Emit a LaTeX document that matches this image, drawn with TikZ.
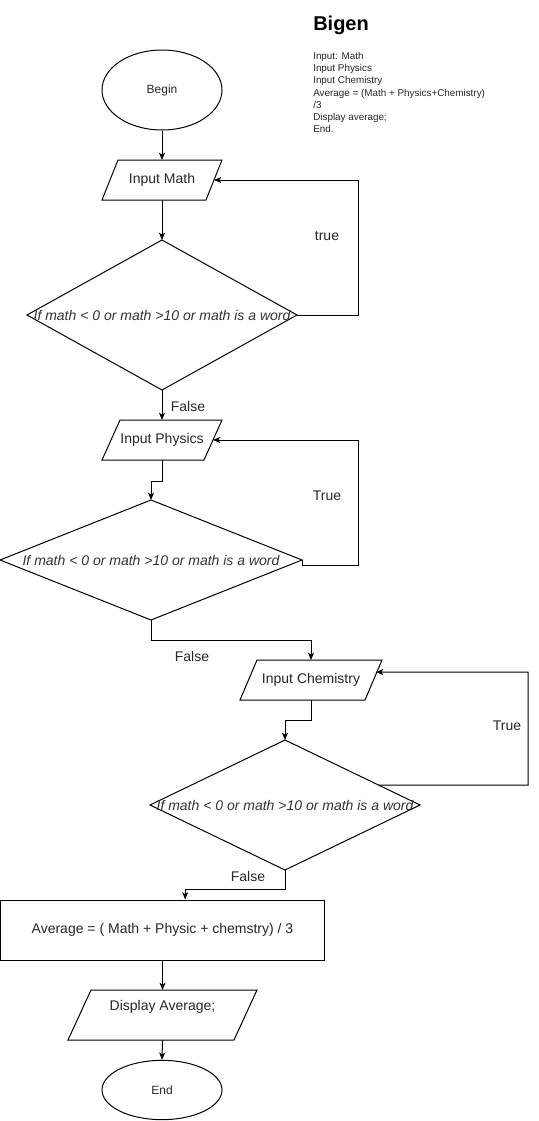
\documentclass[tikz,border=0pt]{standalone}
\usepackage{fontspec}
\setmainfont{Liberation Sans}
\usetikzlibrary{shapes.geometric,arrows.meta,calc}
\newcommand\paral[2]{\draw[line width=0.75pt] ([xshift=#2]#1.north west) -- (#1.north east) -- ([xshift=-#2]#1.south east) -- (#1.south west) -- cycle;}
\begin{document}
\begin{tikzpicture}[x=0.75pt,y=-0.75pt,
  every node/.style={font=\fontsize{10.5}{12}\selectfont, text=black!85},
  conn/.style={line width=0.75pt,-{Stealth[length=5.5pt,width=4.5pt,inset=1.5pt]}},
  plain/.style={line width=0.75pt},
  oval/.style={ellipse,draw,line width=0.75pt,inner sep=0pt,font=\fontsize{9}{10}\selectfont},
  dia/.style={diamond,draw,line width=0.75pt,inner sep=0pt,outer sep=0pt},
  diatext/.style={font=\fontsize{10.5}{12}\selectfont\itshape,text=black!80,inner sep=0pt},
  parab/.style={rectangle,inner sep=0pt,outer sep=0pt},
  lab/.style={inner sep=0pt},
  procbox/.style={rectangle,draw,line width=0.75pt,inner sep=0pt}
]
\useasboundingbox (0,0) rectangle (539,1121);
% header
\node[anchor=west,inner sep=0pt,font=\fontsize{15}{18}\selectfont\bfseries,text=black] (title) at (313,25) {Bigen};
\node[anchor=north west,inner sep=0pt,align=left,font=\fontsize{7.4}{9.15}\selectfont,text=black!85] (pseudo) at (313,52)
  {Input: Math\\Input Physics\\Input Chemistry\\Average = (Math + Physics+Chemistry)\\/3\\Display average;\\End.};
% nodes
\node[oval,minimum width=90pt,minimum height=60pt] (begin) at (162,90) {Begin};
\node[parab,minimum width=90pt,minimum height=30pt] (inmath) at (162,180) {Input Math};
\paral{inmath}{12pt}
\node[dia,minimum width=202.5pt,minimum height=112.5pt] (d1) at (162,315) {};
\node[diatext] (t1) at (d1.center) {If math < 0 or math >10 or math is a word};
\node[parab,minimum width=90pt,minimum height=30pt] (inphys) at (162,440) {Input Physics};
\paral{inphys}{13.5pt}
\node[dia,minimum width=226.5pt,minimum height=90pt] (d2) at (151,560) {};
\node[diatext] (t2) at (d2.center) {If math < 0 or math >10 or math is a word};
\node[parab,minimum width=106.5pt,minimum height=30pt] (inchem) at (311,680) {Input Chemistry};
\paral{inchem}{12.75pt}
\node[dia,minimum width=202.5pt,minimum height=97.5pt] (d3) at (285,805) {};
\node[diatext] (t3) at (d3.center) {If math < 0 or math >10 or math is a word};
\node[procbox,minimum width=243pt,minimum height=45pt] (avg) at (162.5,930) {Average = ( Math + Physic + chemstry) / 3};
\node[parab,minimum width=141.75pt,minimum height=37.5pt] (disp) at (162.5,1015) {};
\paral{disp}{17.25pt}
\node[inner sep=0pt] (disptext) at (162.5,1007) {Display Average;};
\node[oval,minimum width=90pt,minimum height=44.5pt] (end) at (162,1090) {End};
% labels
\node[lab] (l1) at (327,236) {true};
\node[lab] (l2) at (188,406) {False};
\node[lab] (l3) at (327,496) {True};
\node[lab] (l4) at (192,656) {False};
\node[lab] (l5) at (507,726) {True};
\node[lab] (l6) at (248,876) {False};
% helper coordinates
\coordinate (inmathR) at ([xshift=-6pt]inmath.east);
\coordinate (inphysR) at ([xshift=-6.75pt]inphys.east);
\coordinate (inchemR) at ([xshift=-4.5pt,yshift=6pt]inchem.east);
\coordinate (c1) at (358,315);
\coordinate (c2) at (358,565);
\coordinate (c3) at (528,785);
\coordinate (avgin) at ([xshift=17pt]avg.north);
% connectors
\draw[conn] (begin.south) -- (inmath.north);
\draw[conn] (inmath.south) -- (d1.north);
\draw[conn] (d1.east) -- (c1) |- (inmathR);
\draw[conn] (d1.south) -- (inphys.north);
\draw[conn] (inphys.south) -- ++(0,21) -| (d2.north);
\draw[conn] (d2.east) -- ++(0,5) -- (c2) |- (inphysR);
\draw[conn] (d2.south) -- ++(0,20) -| (inchem.north);
\draw[conn] (inchem.south) -- ++(0,20) -| (d3.north);
\draw[conn] (d3.12) -- (c3) |- (inchemR);
\draw[conn] (d3.south) -- ++(0,19) -| (avgin);
\draw[conn] (avg.south) -- (disp.north);
\draw[conn] (disp.south) -- (end.north);
\end{tikzpicture}
\end{document}
